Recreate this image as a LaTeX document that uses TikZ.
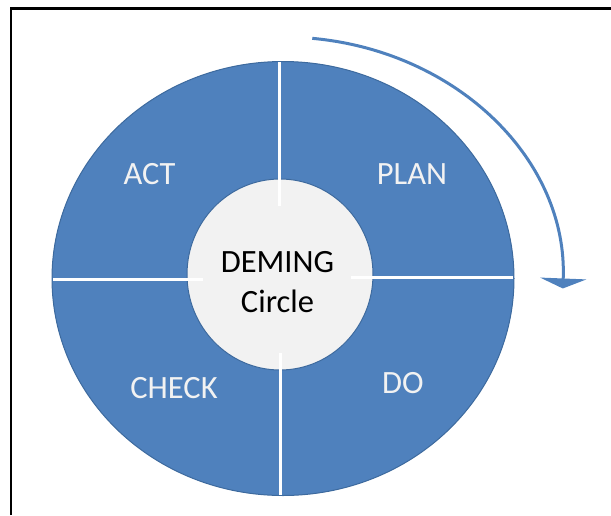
\documentclass[tikz,border=0pt]{standalone}
\usepackage{fontspec}
\setmainfont{Carlito}
\usepackage{tikz}
\usetikzlibrary{arrows.meta}

\definecolor{pdcablue}{HTML}{4F81BD}
\definecolor{pdcaedge}{HTML}{3D6A9E}
\definecolor{pdcagrey}{HTML}{F2F2F2}

\tikzset{
    phase/.style = {text = pdcagrey, anchor = base, font = \fontsize{32.5}{38}\selectfont},
    hub/.style = {text = black, anchor = base, font = \fontsize{32.5}{38}\selectfont},
    split/.style = {white, line width = 3pt}
}

\begin{document}
\begin{tikzpicture} [x = 1pt, y = -1pt]

    \useasboundingbox (0,0) rectangle (611,515);

    % frame
    \draw [line width = 2.5pt] (11,515) -- (11,8.5) -- (611,8.5);

    % outer ring
    \fill [pdcablue, draw = pdcaedge, line width = 1pt] (283,278.5) ellipse [x radius = 231, y radius = 217];

    % inner circle
    \fill [pdcagrey, draw = pdcaedge, line width = 1pt] (280,274.5) ellipse [x radius = 93, y radius = 95.5];

    \draw [split] (279,62) -- (279,206);
    \draw [split] (280,353) -- (280,495);
    \draw [split] (53,279) -- (203,279);
    \draw [split] (351,277) -- (513,277);

    % direction of the cycle
    \draw [pdcablue, line width = 3pt, -{Triangle[width = 46pt, length = 10pt]}]
        (283,280) ++(84:280 and -243) arc [start angle = 84, end angle = -2, x radius = 280, y radius = -243];

    \node [phase] (act) at (149.5,184) {ACT};
    \node [phase] (plan) at (412,184) {PLAN};
    \node [phase] (check) at (174,398) {CHECK};
    \node [phase] (do) at (403,393) {DO};

    \node [hub] (deming) at (277.5,272) {DEMING};
    \node [hub] (circle) at (277.5,312) {Circle};

\end{tikzpicture}
\end{document}
